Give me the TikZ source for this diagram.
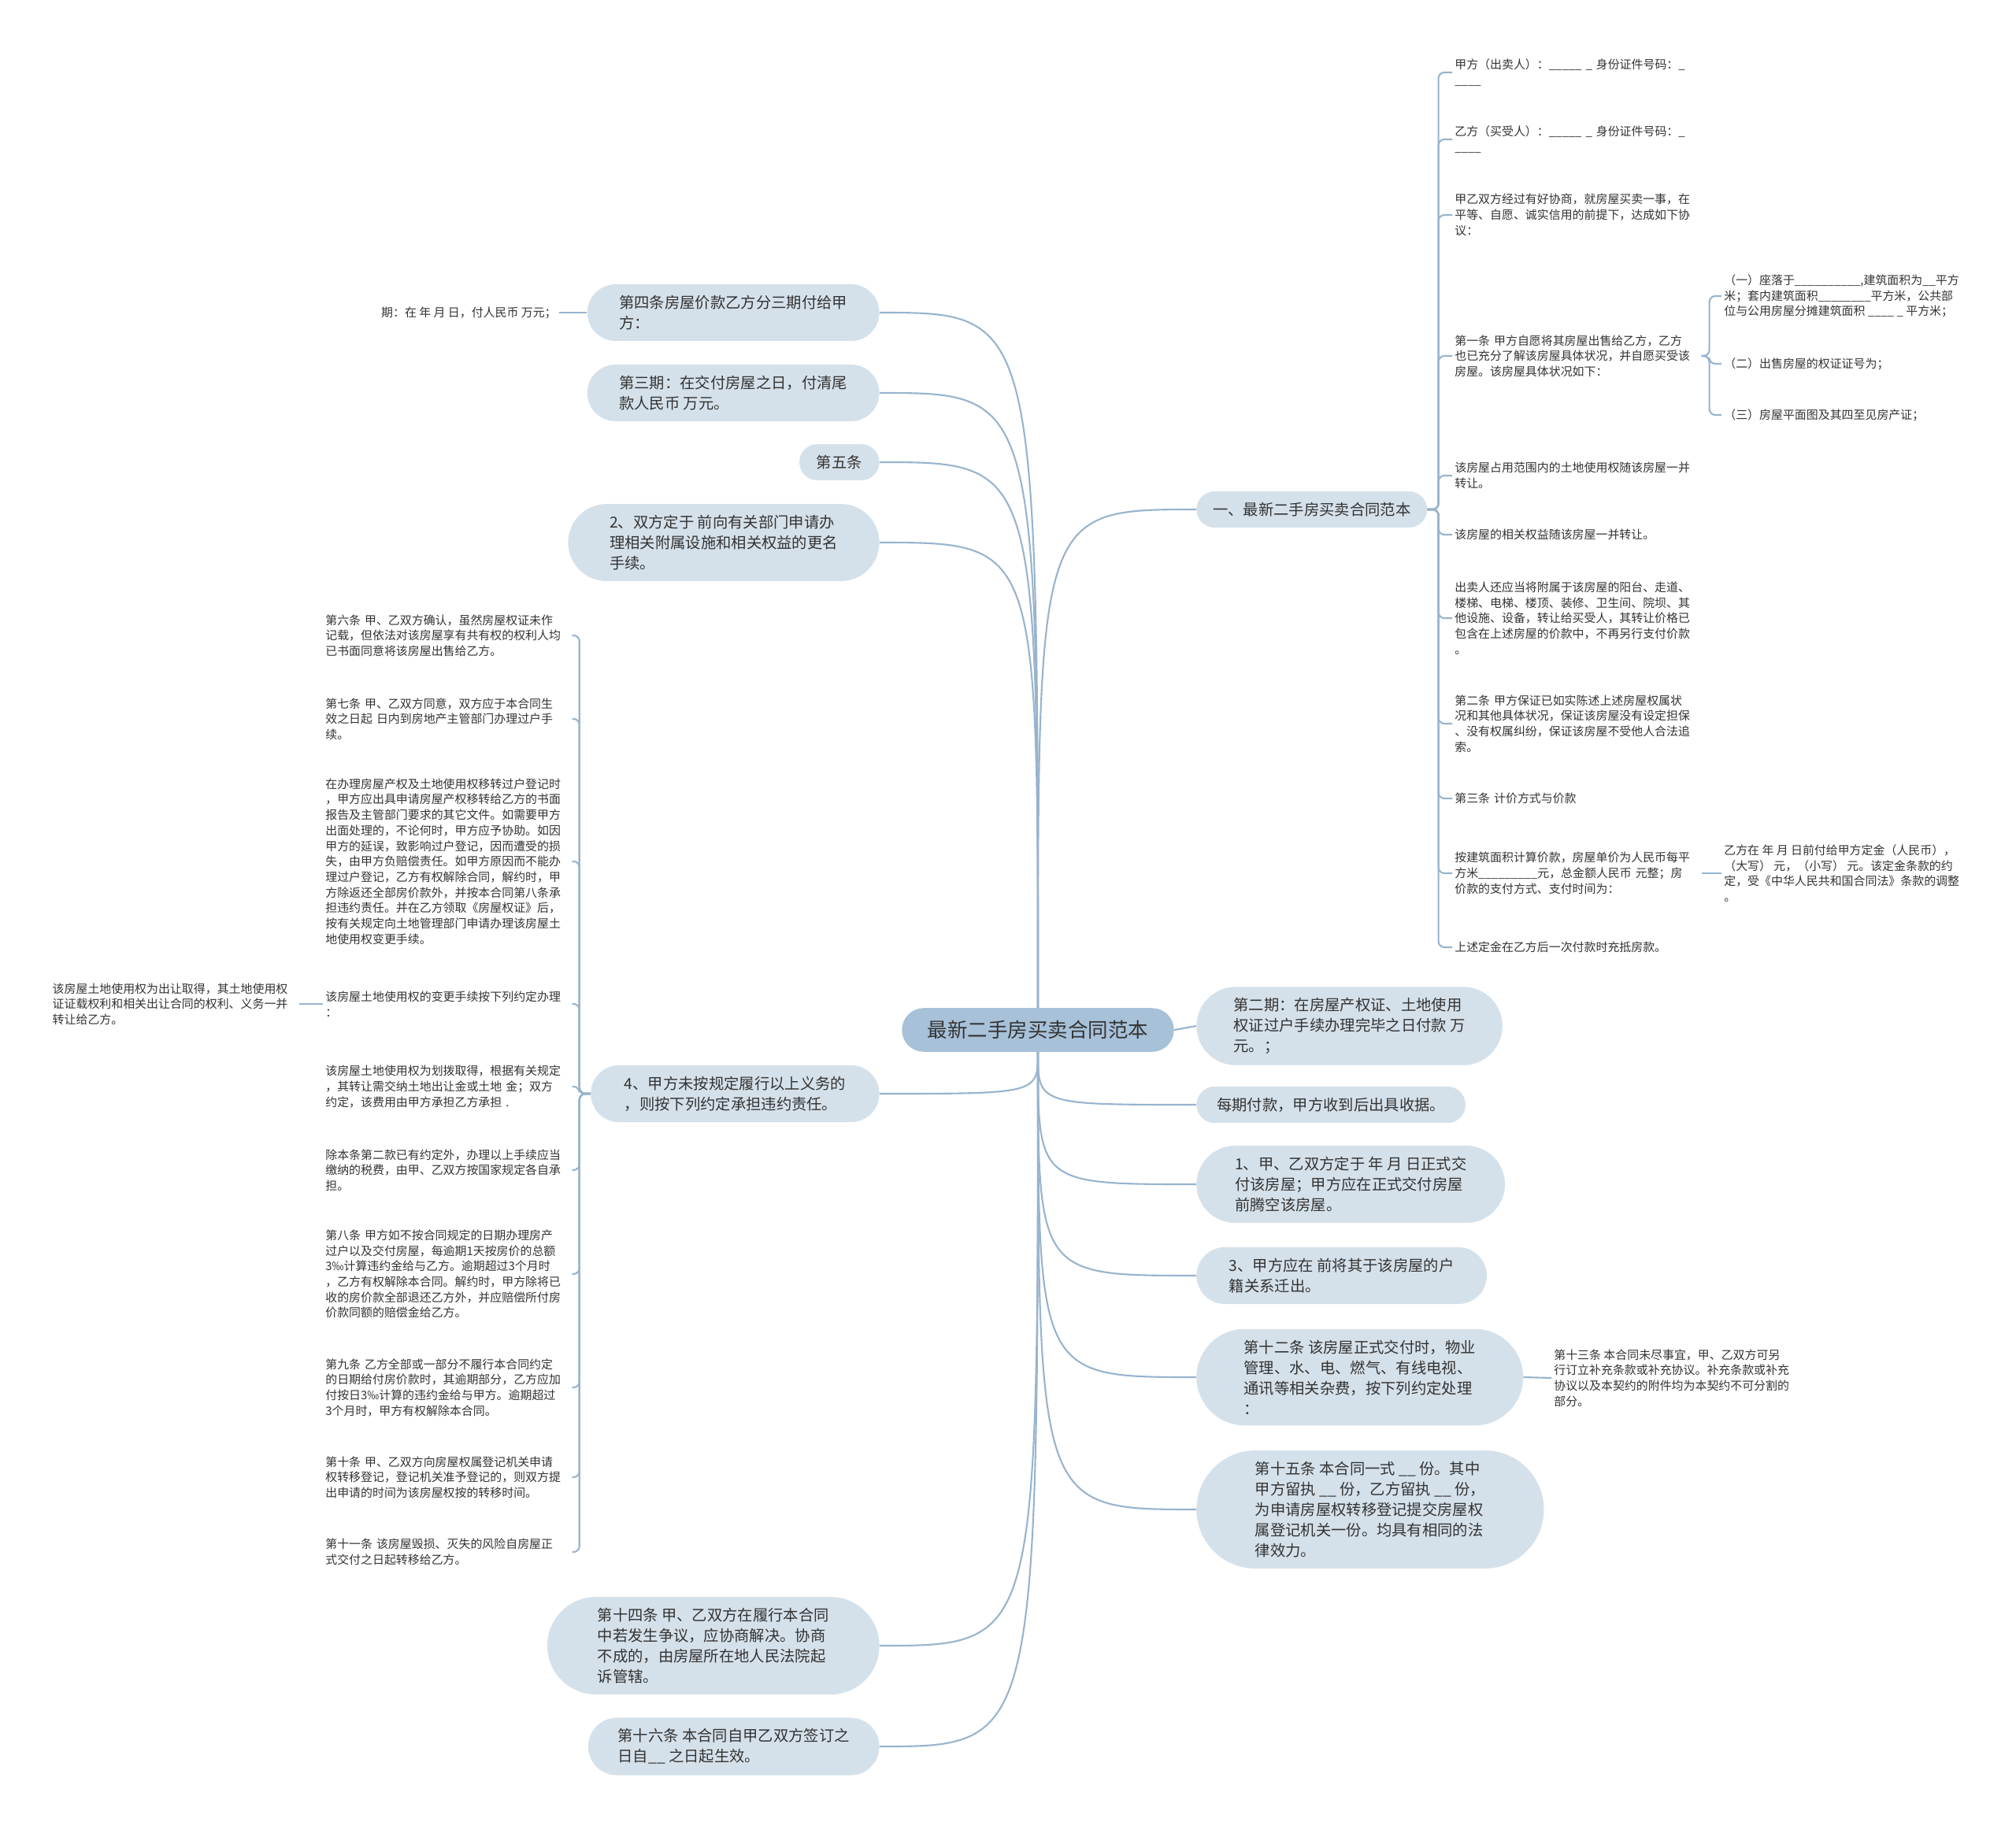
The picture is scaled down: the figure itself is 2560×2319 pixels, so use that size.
\documentclass[tikz,border=0pt]{standalone}
\usepackage{fontspec}
\setmainfont{Noto Sans CJK SC}
\usepackage{xcolor}
\usepackage{tikz}
\usetikzlibrary{shapes.misc,backgrounds}
\definecolor{linkblue}{RGB}{152,180,205}
\definecolor{pillfill}{RGB}{213,225,234}
\definecolor{rootfill}{RGB}{167,193,217}
\definecolor{textgray}{RGB}{51,51,51}

\begin{document}
\begin{tikzpicture}[
    x=0.02cm, y=-0.02cm,
    root/.style={rounded rectangle, fill=rootfill, text=textgray, font=\fontsize{14.5}{18}\selectfont, inner xsep=0.6cm, inner ysep=0.32cm},
    pill/.style={rounded rectangle, fill=pillfill, text=textgray, font=\fontsize{11}{14.8}\selectfont, align=left, inner xsep=#1, inner ysep=0.28cm},
    pill/.default=0.66cm,
    leaf/.style={text=textgray, font=\fontsize{8.5}{11.2}\selectfont, align=left, inner sep=0.06cm},
    leafcol/.style={leaf, text width=6.2cm},
    link/.style={draw=linkblue, line width=1.2pt, rounded corners=0.15cm}
]
    \useasboundingbox (0,0) rectangle (2560,2319);

    \node[root] (C) at (1318,1308) {最新二手房买卖合同范本};

    \node[pill, anchor=east] (L1) at (1117,397) {第四条房屋价款乙方分三期付给甲\\方：};
    \node[pill, anchor=east] (L2) at (1117,499) {第三期：在交付房屋之日，付清尾\\款人民币 万元。};
    \node[pill=0.4cm, anchor=east] (L3) at (1117,587) {第五条};
    \node[pill=0.76cm, anchor=east] (L4) at (1117,689) {2、双方定于 前向有关部门申请办\\理相关附属设施和相关权益的更名\\手续。};
    \node[pill=0.7cm, anchor=east] (L5) at (1117,1389) {4、甲方未按规定履行以上义务的\\，则按下列约定承担违约责任。};
    \node[pill=0.82cm, anchor=east] (L6) at (1117,2090) {第十四条 甲、乙双方在履行本合同\\中若发生争议，应协商解决。协商\\不成的，由房屋所在地人民法院起\\诉管辖。};
    \node[pill=0.6cm, anchor=east] (L7) at (1117,2218) {第十六条 本合同自甲乙双方签订之\\日自\_\_ 之日起生效。};

    \node[leaf, anchor=east] (P1) at (710,397) {期：在 年 月 日，付人民币 万元；};

    \node[leafcol, anchor=west] (D1) at (410,807) {第六条 甲、乙双方确认，虽然房屋权证未作\\记载，但依法对该房屋享有共有权的权利人均\\已书面同意将该房屋出售给乙方。};
    \node[leafcol, anchor=west] (D2) at (410,913) {第七条 甲、乙双方同意，双方应于本合同生\\效之日起 日内到房地产主管部门办理过户手\\续。};
    \node[leafcol, anchor=west] (D3) at (410,1094) {在办理房屋产权及土地使用权移转过户登记时\\，甲方应出具申请房屋产权移转给乙方的书面\\报告及主管部门要求的其它文件。如需要甲方\\出面处理的，不论何时，甲方应予协助。如因\\甲方的延误，致影响过户登记，因而遭受的损\\失，由甲方负赔偿责任。如甲方原因而不能办\\理过户登记，乙方有权解除合同，解约时，甲\\方除返还全部房价款外，并按本合同第八条承\\担违约责任。并在乙方领取《房屋权证》后，\\按有关规定向土地管理部门申请办理该房屋土\\地使用权变更手续。};
    \node[leafcol, anchor=west] (D4) at (410,1275) {该房屋土地使用权的变更手续按下列约定办理\\：};
    \node[leafcol, anchor=west] (D5) at (410,1380) {该房屋土地使用权为划拨取得，根据有关规定\\，其转让需交纳土地出让金或土地 金；双方\\约定，该费用由甲方承担乙方承担 .};
    \node[leafcol, anchor=west] (D6) at (410,1486) {除本条第二款已有约定外，办理以上手续应当\\缴纳的税费，由甲、乙双方按国家规定各自承\\担。};
    \node[leafcol, anchor=west] (D7) at (410,1618) {第八条 甲方如不按合同规定的日期办理房产\\过户以及交付房屋，每逾期1天按房价的总额\\3‰计算违约金给与乙方。逾期超过3个月时\\，乙方有权解除本合同。解约时，甲方除将已\\收的房价款全部退还乙方外，并应赔偿所付房\\价款同额的赔偿金给乙方。};
    \node[leafcol, anchor=west] (D8) at (410,1762) {第九条 乙方全部或一部分不履行本合同约定\\的日期给付房价款时，其逾期部分，乙方应加\\付按日3‰计算的违约金给与甲方。逾期超过\\3个月时，甲方有权解除本合同。};
    \node[leafcol, anchor=west] (D9) at (410,1876) {第十条 甲、乙双方向房屋权属登记机关申请\\权转移登记，登记机关准予登记的，则双方提\\出申请的时间为该房屋权按的转移时间。};
    \node[leafcol, anchor=west] (D10) at (410,1971) {第十一条 该房屋毁损、灭失的风险自房屋正\\式交付之日起转移给乙方。};
    \node[leafcol, anchor=east] (E1) at (380,1275) {该房屋土地使用权为出让取得，其土地使用权\\证证载权利和相关出让合同的权利、义务一并\\转让给乙方。};

    \node[pill=0.38cm, anchor=west] (R1) at (1519,647) {一、最新二手房买卖合同范本};
    \node[pill=0.64cm, anchor=west] (R2) at (1519,1303) {第二期：在房屋产权证、土地使用\\权证过户手续办理完毕之日付款 万\\元。；};
    \node[pill=0.48cm, anchor=west] (R3) at (1519,1403) {每期付款，甲方收到后出具收据。};
    \node[pill=0.68cm, anchor=west] (R4) at (1519,1504) {1、甲、乙双方定于 年 月 日正式交\\付该房屋；甲方应在正式交付房屋\\前腾空该房屋。};
    \node[pill=0.68cm, anchor=west] (R5) at (1519,1620) {3、甲方应在 前将其于该房屋的户\\籍关系迁出。};
    \node[pill=0.76cm, anchor=west] (R6) at (1519,1749) {第十二条 该房屋正式交付时，物业\\管理、水、电、燃气、有线电视、\\通讯等相关杂费，按下列约定处理\\：};
    \node[pill=0.86cm, anchor=west] (R7) at (1519,1917) {第十五条 本合同一式 \_\_ 份。其中\\甲方留执 \_\_ 份，乙方留执 \_\_ 份，\\为申请房屋权转移登记提交房屋权\\属登记机关一份。均具有相同的法\\律效力。};

    \node[leaf, anchor=west] (F1) at (1970,1750) {第十三条 本合同未尽事宜，甲、乙双方可另\\行订立补充条款或补充协议。补充条款或补充\\协议以及本契约的附件均为本契约不可分割的\\部分。};

    \node[leafcol, anchor=west] (A1) at (1844,92) {甲方（出卖人）：\_\_\_\_\_ \_ 身份证件号码：\_\\\_\_\_\_};
    \node[leafcol, anchor=west] (A2) at (1844,177) {乙方（买受人）：\_\_\_\_\_ \_ 身份证件号码：\_\\\_\_\_\_};
    \node[leafcol, anchor=west] (A3) at (1844,273) {甲乙双方经过有好协商，就房屋买卖一事，在\\平等、自愿、诚实信用的前提下，达成如下协\\议：};
    \node[leafcol, anchor=west] (A4) at (1844,452) {第一条 甲方自愿将其房屋出售给乙方，乙方\\也已充分了解该房屋具体状况，并自愿买受该\\房屋。该房屋具体状况如下：};
    \node[leafcol, anchor=west] (A5) at (1844,604) {该房屋占用范围内的土地使用权随该房屋一并\\转让。};
    \node[leafcol, anchor=west] (A6) at (1844,679) {该房屋的相关权益随该房屋一并转让。};
    \node[leafcol, anchor=west] (A7) at (1844,785) {出卖人还应当将附属于该房屋的阳台、走道、\\楼梯、电梯、楼顶、装修、卫生间、院坝、其\\他设施、设备，转让给买受人，其转让价格已\\包含在上述房屋的价款中，不再另行支付价款\\。};
    \node[leafcol, anchor=west] (A8) at (1844,919) {第二条 甲方保证已如实陈述上述房屋权属状\\况和其他具体状况，保证该房屋没有设定担保\\、没有权属纠纷，保证该房屋不受他人合法追\\索。};
    \node[leafcol, anchor=west] (A9) at (1844,1014) {第三条 计价方式与价款};
    \node[leafcol, anchor=west] (A10) at (1844,1109) {按建筑面积计算价款，房屋单价为人民币每平\\方米\_\_\_\_\_\_\_\_\_元，总金额人民币 元整；房\\价款的支付方式、支付时间为：};
    \node[leafcol, anchor=west] (A11) at (1844,1203) {上述定金在乙方后一次付款时充抵房款。};

    \node[leaf, anchor=west] (B1) at (2186,376) {（一）座落于\_\_\_\_\_\_\_\_\_\_,建筑面积为\_\_平方\\米；套内建筑面积\_\_\_\_\_\_\_\_平方米，公共部\\位与公用房屋分摊建筑面积 \_\_\_\_ \_ 平方米；};
    \node[leaf, anchor=west] (B2) at (2186,462) {（二）出售房屋的权证证号为；};
    \node[leaf, anchor=west] (B3) at (2186,527) {（三）房屋平面图及其四至见房产证；};
    \node[leaf, anchor=west] (Q1) at (2186,1109) {乙方在 年 月 日前付给甲方定金（人民币），\\ （大写） 元，（小写） 元。该定金条款的约\\定，受《中华人民共和国合同法》条款的调整\\。};

    \begin{scope}[on background layer]
    \fill[white] (0,0) rectangle (2560,2319);

    \draw[link] (C.north) .. controls (C.north |- L1.east) .. (L1.east);
    \draw[link] (C.north) .. controls (C.north |- L2.east) .. (L2.east);
    \draw[link] (C.north) .. controls (C.north |- L3.east) .. (L3.east);
    \draw[link] (C.north) .. controls (C.north |- L4.east) .. (L4.east);
    \draw[link] (C.south) .. controls (C.south |- L5.east) .. (L5.east);
    \draw[link] (C.south) .. controls (C.south |- L6.east) .. (L6.east);
    \draw[link] (C.south) .. controls (C.south |- L7.east) .. (L7.east);
    \draw[link] (C.north) .. controls (C.north |- R1.west) .. (R1.west);
    \draw[link] (C.east) -- (R2.west);
    \draw[link] (C.south) .. controls (C.south |- R3.west) .. (R3.west);
    \draw[link] (C.south) .. controls (C.south |- R4.west) .. (R4.west);
    \draw[link] (C.south) .. controls (C.south |- R5.west) .. (R5.west);
    \draw[link] (C.south) .. controls (C.south |- R6.west) .. (R6.west);
    \draw[link] (C.south) .. controls (C.south |- R7.west) .. (R7.west);

    \draw[link] (L1.west) -- (P1.east);
    \draw[link] (R6.east) -- (F1.west);
    \draw[link] (D4.west) -- (E1.east);
    \draw[link] (A10.east) -- (Q1.west);

    \draw[link] (L5.west) -- ++(-14,0) |- (D1.east);
    \draw[link] (L5.west) -- ++(-14,0) |- (D2.east);
    \draw[link] (L5.west) -- ++(-14,0) |- (D3.east);
    \draw[link] (L5.west) -- ++(-14,0) |- (D4.east);
    \draw[link] (L5.west) -- ++(-14,0) |- (D5.east);
    \draw[link] (L5.west) -- ++(-14,0) |- (D6.east);
    \draw[link] (L5.west) -- ++(-14,0) |- (D7.east);
    \draw[link] (L5.west) -- ++(-14,0) |- (D8.east);
    \draw[link] (L5.west) -- ++(-14,0) |- (D9.east);
    \draw[link] (L5.west) -- ++(-14,0) |- (D10.east);

    \draw[link] (R1.east) -- ++(14,0) |- (A1.west);
    \draw[link] (R1.east) -- ++(14,0) |- (A2.west);
    \draw[link] (R1.east) -- ++(14,0) |- (A3.west);
    \draw[link] (R1.east) -- ++(14,0) |- (A4.west);
    \draw[link] (R1.east) -- ++(14,0) |- (A5.west);
    \draw[link] (R1.east) -- ++(14,0) |- (A6.west);
    \draw[link] (R1.east) -- ++(14,0) |- (A7.west);
    \draw[link] (R1.east) -- ++(14,0) |- (A8.west);
    \draw[link] (R1.east) -- ++(14,0) |- (A9.west);
    \draw[link] (R1.east) -- ++(14,0) |- (A10.west);
    \draw[link] (R1.east) -- ++(14,0) |- (A11.west);

    \draw[link] (A4.east) -- ++(10,0) |- (B1.west);
    \draw[link] (A4.east) -- ++(10,0) |- (B2.west);
    \draw[link] (A4.east) -- ++(10,0) |- (B3.west);
    \end{scope}
\end{tikzpicture}
\end{document}
